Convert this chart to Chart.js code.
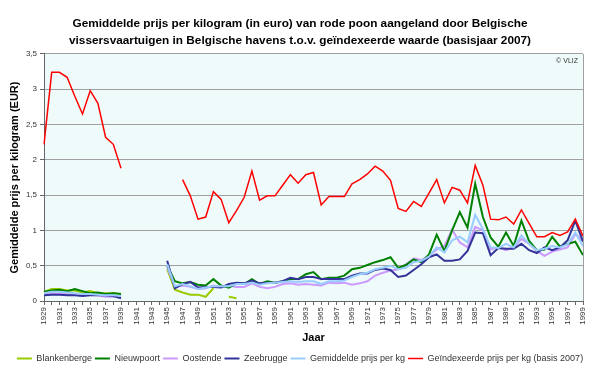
<!DOCTYPE html>
<html>
<head>
<meta charset="utf-8">
<script src="https://cdn.jsdelivr.net/npm/chart.js@4"></script>
<style>
html,body{margin:0;padding:0;background:#fff;}
#wrap{width:600px;height:368px;}
</style>
</head>
<body>
<div id="wrap"><canvas id="c" width="600" height="368"></canvas></div>
<script>
const years = ['1929','1930','1931','1932','1933','1934','1935','1936','1937','1938','1939',
'1940','1941','1942','1943','1944','1945','1946','1947','1948','1949',
'1950','1951','1952','1953','1954','1955','1956','1957','1958','1959',
'1960','1961','1962','1963','1964','1965','1966','1967','1968','1969',
'1970','1971','1972','1973','1974','1975','1976','1977','1978','1979',
'1980','1981','1982','1983','1984','1985','1986','1987','1988','1989',
'1990','1991','1992','1993','1994','1995','1996','1997','1998','1999'];

const yTicks = [0, 0.5, 1, 1.5, 2, 2.5, 3, 3.5];

const blankenberge = [0.13,0.17,0.17,0.15,0.15,0.12,0.14,0.11,0.11,0.11,0.10,
null,null,null,null,null,
0.45,0.16,0.12,0.09,0.09,0.06,0.18,null,0.06,0.04,
null,null,null,null,null,null,null,null,null,null,null,null,null,null,null,
null,null,null,null,null,null,null,null,null,null,null,null,null,null,null,
null,null,null,null,null,null,null,null,null,null,null,null,null,null,null];

const nieuwpoort = [0.13,0.15,0.16,0.14,0.17,0.14,0.11,0.12,0.10,0.11,0.10,
null,null,null,null,null,
0.50,0.28,0.25,0.27,0.23,0.22,0.31,0.22,0.19,0.25,0.24,0.31,0.24,0.28,0.26,0.28,0.31,0.31,0.38,0.41,0.31,0.33,
0.33,0.36,0.45,0.47,0.51,0.55,0.58,0.62,0.47,0.51,0.59,0.55,0.66,0.94,0.71,1.00,1.26,1.04,1.66,1.19,0.90,0.77,0.97,0.78,1.14,0.85,0.72,0.73,0.91,0.77,0.81,0.84,0.65];

const oostende = [0.10,0.11,0.10,0.10,0.09,0.09,0.09,0.08,0.06,0.06,0.06,
null,null,null,null,null,
0.48,0.20,0.22,0.20,0.17,0.18,0.22,0.20,0.22,0.20,0.20,0.25,0.20,0.18,0.20,0.24,0.25,0.23,0.24,0.23,0.22,0.26,
0.25,0.26,0.23,0.25,0.28,0.36,0.40,0.43,0.45,0.52,0.60,0.58,0.64,0.73,0.78,1.01,0.83,0.76,1.05,1.00,0.73,0.76,0.72,0.76,0.88,0.81,0.71,0.64,0.70,0.73,0.76,0.95,0.85];

const zeebrugge = [0.08,0.09,0.09,0.08,0.08,0.07,0.08,0.08,0.08,0.07,0.04,
null,null,null,null,null,
0.57,0.18,0.24,0.27,0.19,0.20,0.20,0.19,0.24,0.26,0.25,0.29,0.25,0.26,0.26,0.28,0.33,0.31,0.34,0.34,0.31,0.31,
0.31,0.31,0.36,0.39,0.39,0.44,0.46,0.44,0.34,0.36,0.44,0.52,0.62,0.66,0.57,0.57,0.59,0.71,0.97,0.96,0.65,0.75,0.74,0.74,0.81,0.72,0.68,0.76,0.72,0.76,0.86,1.14,0.84];

const gemiddelde = [0.11,0.13,0.13,0.12,0.11,0.10,0.10,0.09,0.08,0.08,0.07,
null,null,null,null,null,
0.52,0.21,0.24,0.21,0.17,0.19,0.21,0.21,0.21,0.24,0.24,0.26,0.23,0.25,0.26,0.27,0.28,0.27,0.28,0.28,0.24,0.28,
0.28,0.29,0.34,0.38,0.40,0.45,0.47,0.50,0.45,0.47,0.55,0.57,0.63,0.76,0.69,0.86,0.91,0.83,1.22,1.02,0.76,0.75,0.81,0.76,0.93,0.81,0.72,0.74,0.78,0.76,0.80,0.97,0.78];

const geindexeerd = [2.22,3.24,3.24,3.17,2.90,2.65,2.98,2.80,2.32,2.22,1.88,
null,null,null,null,null,null,null,
1.72,1.49,1.16,1.19,1.55,1.44,1.11,1.28,1.47,1.84,1.43,1.49,1.49,1.64,1.79,1.67,1.79,1.82,1.36,1.48,
1.48,1.48,1.66,1.72,1.80,1.91,1.84,1.71,1.31,1.27,1.41,1.34,1.53,1.72,1.39,1.61,1.57,1.39,1.92,1.64,1.16,1.15,1.19,1.09,1.29,1.10,0.91,0.91,0.97,0.93,0.98,1.16,0.92];

const seriesNames = ['Blankenberge','Nieuwpoort','Oostende','Zeebrugge','Gemiddelde prijs per kg','Geïndexeerde prijs per kg (basis 2007)'];
const seriesColors = ['#99CC00','#008000','#CC99FF','#333399','#99CCFF','#FF0000'];
const seriesData = [blankenberge, nieuwpoort, oostende, zeebrugge, gemiddelde, geindexeerd];
const seriesWidths = [2, 2, 2, 2, 2, 1.5];
const seriesOrder = [5, 3, 4, 2, 1, 0];

const FONT = "'Liberation Sans', Arial, sans-serif";

const bgPlugin = {
  id: 'plotBg',
  beforeDraw(chart) {
    const a = chart.chartArea, ctx = chart.ctx;
    ctx.save();
    ctx.fillStyle = '#EFFBFB';
    ctx.fillRect(a.left, a.top, a.right - a.left, a.bottom - a.top);
    ctx.restore();
  },
  afterDatasetsDraw(chart) {
    const a = chart.chartArea, ctx = chart.ctx;
    ctx.save();
    ctx.strokeStyle = '#A0A0A0';
    ctx.lineWidth = 1;
    ctx.beginPath();
    ctx.moveTo(Math.round(a.right) + 0.5, a.top);
    ctx.lineTo(Math.round(a.right) + 0.5, a.bottom);
    ctx.stroke();
    ctx.fillStyle = '#333';
    ctx.font = "7px " + FONT;
    ctx.textAlign = 'right';
    ctx.textBaseline = 'middle';
    ctx.fillText('© VLIZ', a.right - 5, a.top + 7);
    ctx.restore();
  }
};

new Chart(document.getElementById('c'), {
  type: 'line',
  data: {
    labels: years,
    datasets: seriesNames.map((n, i) => ({
      label: n,
      data: seriesData[i],
      borderColor: seriesColors[i],
      backgroundColor: seriesColors[i],
      borderWidth: seriesWidths[i],
      pointRadius: 0,
      pointHoverRadius: 0,
      tension: 0,
      spanGaps: false,
      fill: false,
      order: seriesOrder[i]
    }))
  },
  options: {
    responsive: false,
    animation: false,
    layout: { padding: { left: 0, right: 0, top: 0, bottom: -5 } },
    plugins: {
      title: {
        display: true,
        text: ['Gemiddelde prijs per kilogram (in euro) van rode poon aangeland door Belgische',
               'vissersvaartuigen in Belgische havens t.o.v. geïndexeerde waarde (basisjaar 2007)'],
        font: { family: FONT, size: 11.8, weight: 'bold', lineHeight: 1.44 },
        color: '#000',
        padding: { top: 15, bottom: 5 }
      },
      legend: {
        position: 'bottom',
        labels: {
          usePointStyle: true,
          pointStyle: 'line',
          pointStyleWidth: 15,
          font: { family: FONT, size: 9 },
          color: '#333',
          padding: 3,
          sort: (a, b) => a.datasetIndex - b.datasetIndex
        }
      },
      tooltip: { enabled: false }
    },
    scales: {
      x: {
        type: 'category',
        offset: false,
        afterFit(s) { s.height = 50; },
        grid: { display: true, drawOnChartArea: false, drawTicks: true, tickLength: 4, color: '#666', tickColor: '#666' },
        border: { display: true, color: '#666' },
        ticks: {
          autoSkip: false, maxRotation: 90, minRotation: 90, padding: 2,
          font: { family: FONT, size: 8 }, color: '#333',
          callback: (v, i) => (i % 2 === 0 ? years[i] : '')
        },
        title: { display: true, text: 'Jaar', font: { family: FONT, size: 11, weight: 'bold' }, color: '#000', padding: { top: 2, bottom: 6 } }
      },
      y: {
        min: 0, max: 3.5,
        afterFit(s) { s.width = 44; },
        afterBuildTicks(s) { s.ticks = yTicks.map(v => ({ value: v })); },
        grid: { color: '#A0A0A0', tickColor: '#666', tickLength: 4 },
        border: { display: true, color: '#666' },
        ticks: {
          padding: 3,
          font: { family: FONT, size: 8 }, color: '#333',
          callback: v => String(v).replace('.', ',')
        },
        title: { display: true, text: 'Gemiddelde prijs per kilogram (EUR)', font: { family: FONT, size: 11, weight: 'bold' }, color: '#000', padding: { top: 8, bottom: 2 } }
      },
      rightPad: {
        type: 'linear',
        position: 'right',
        display: true,
        afterFit(s) { s.width = 17; },
        grid: { display: false, drawOnChartArea: false, drawTicks: false },
        border: { display: false },
        ticks: { display: false }
      }
    }
  },
  plugins: [bgPlugin]
});
</script>
</body>
</html>
